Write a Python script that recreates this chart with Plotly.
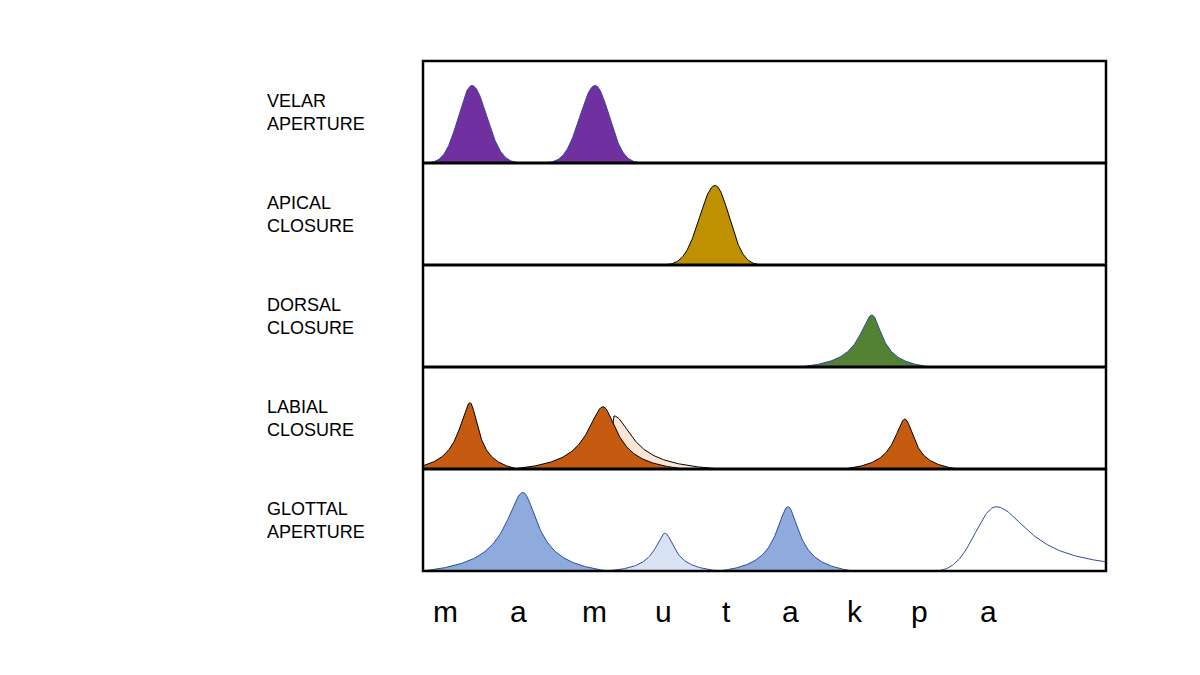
import numpy as np
import plotly.graph_objects as go

# rows top to bottom
rows = ["VELAR<br>APERTURE", "APICAL<br>CLOSURE", "DORSAL<br>CLOSURE",
        "LABIAL<br>CLOSURE", "GLOTTAL<br>APERTURE"]

# gestures: row index, start, peak, end, height (fraction of row), shape kind, fill colour
g_row = [0, 0, 1, 2, 3, 3, 3, 3, 4, 4, 4, 4]
g_start = [3, 121, 240, 377, -15, 175, 90, 421, 0, 185, 297, 515]
g_peak = [49, 172, 292, 449, 47, 191, 180, 482, 100, 242, 365, 573]
g_end = [99, 220, 340, 507, 95, 297, 261, 535, 185, 297, 430, 683]
g_height = [0.76, 0.76, 0.78, 0.51, 0.65, 0.52, 0.61, 0.49, 0.77, 0.37, 0.63, 0.63]
g_kind = ["round", "round", "round", "cusp", "cusp", "cusp", "cusp", "cusp",
          "cusp", "cusp", "cusp", "soft"]
g_color = ["#7030A0", "#7030A0", "#BF9000", "#548235", "#C55A11", "#FBE5D6",
           "#C55A11", "#C55A11", "#8FAADC", "#DAE3F3", "#8FAADC", "#FFFFFF"]

segments = ["m", "a", "m", "u", "t", "a", "k", "p", "a"]
seg_x = [22, 95, 171, 240, 303, 367, 432, 496, 565]

fig = go.Figure()
n = len(rows)
for i in range(len(g_row)):
    base = n - 1 - g_row[i]
    s, p, e, h = g_start[i], g_peak[i], g_end[i], g_height[i]
    xl = np.linspace(s, p, 80)
    xr = np.linspace(p, e, 80)[1:]
    dl = (p - xl) / (p - s)
    dr = (xr - p) / (e - p)
    if g_kind[i] == "round":
        fl = np.exp(-(dl * 2.4) ** 2)
        fr = np.exp(-(dr * 2.4) ** 2)
    elif g_kind[i] == "soft":
        fl = np.exp(-(dl * 2.0) ** 2)
        fr = 1 / (1 + (dr * 3) ** 2) ** 0.8
    else:
        fl = 1 / (1 + (dl * 6) ** 2) ** 0.6
        fr = 1 / (1 + (dr * 6) ** 2) ** 0.6
    xs = np.concatenate([xl, xr])
    f = np.concatenate([fl, fr])
    f = (f - f.min()) / (f.max() - f.min())
    ys = base + h * f
    xs = np.concatenate([xs, [e, s]])
    ys = np.concatenate([ys, [base, base]])
    line_col = "#2F4B9A" if g_row[i] in (0, 2, 4) else "#000000"
    fig.add_trace(go.Scatter(x=xs, y=ys, mode="lines", fill="toself",
                             fillcolor=g_color[i], cliponaxis=False,
                             line=dict(color=line_col, width=1),
                             hoverinfo="skip", showlegend=False))

for k in range(1, n):
    fig.add_shape(type="line", xref="paper", x0=0, x1=1, y0=k, y1=k,
                  line=dict(color="black", width=3))
fig.add_shape(type="rect", xref="paper", yref="paper", x0=0, x1=1, y0=0, y1=1,
              line=dict(color="black", width=2.5))

for j, lab in enumerate(rows):
    fig.add_annotation(text=lab, xref="paper", x=-0.232, xanchor="left",
                       y=n - j - 0.5, yanchor="middle", showarrow=False, align="left",
                       font=dict(size=18, color="black", family="Liberation Sans"))

for sx, sg in zip(seg_x, segments):
    fig.add_annotation(text=sg, x=sx, yref="paper", y=-0.08, yanchor="middle",
                       showarrow=False,
                       font=dict(size=30, color="black", family="Liberation Sans"))

fig.update_xaxes(range=[0, 683], visible=False)
fig.update_yaxes(range=[0, n], visible=False)
fig.update_layout(width=1200, height=675, plot_bgcolor="white", paper_bgcolor="white",
                  margin=dict(l=415, r=102, t=53, b=112, autoexpand=False))
fig.write_html("out.html")
